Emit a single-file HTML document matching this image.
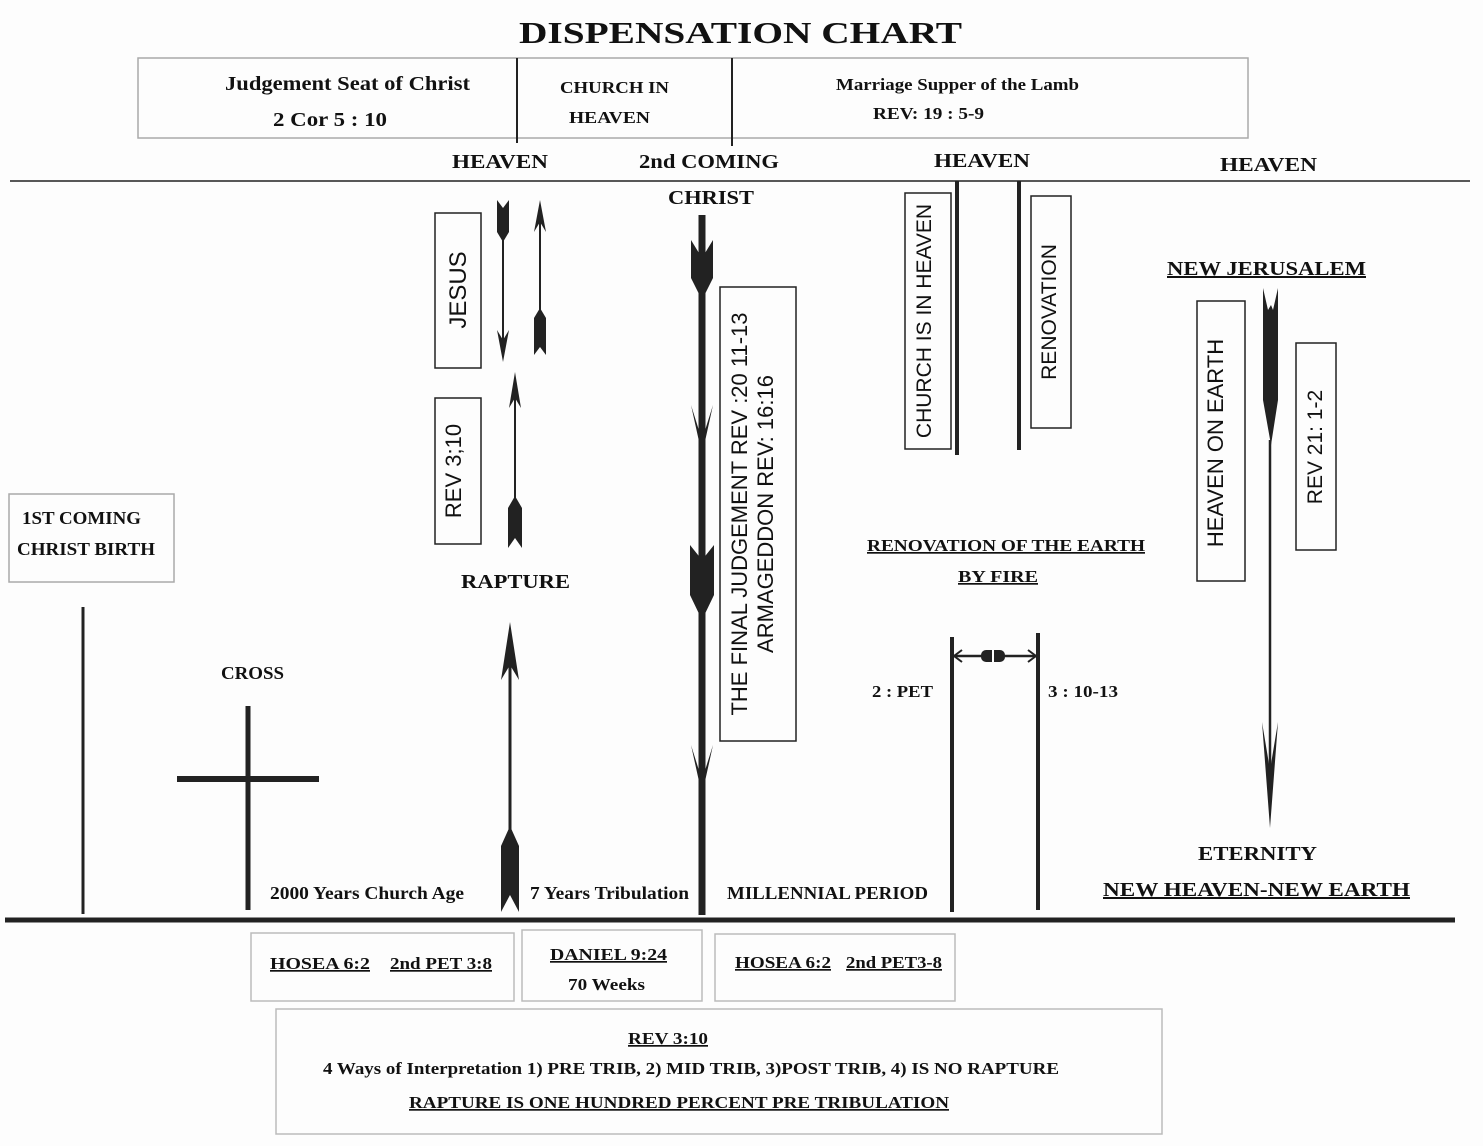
<!DOCTYPE html>
<html><head><meta charset="utf-8"><style>
html,body{margin:0;padding:0;background:#fdfdfd;}
svg{display:block;}
.s{font-family:"Liberation Serif",serif;font-weight:bold;fill:#111;}
.a{font-family:"Liberation Sans",sans-serif;fill:#111;}
</style></head><body>
<svg width="1483" height="1146" viewBox="0 0 1483 1146" xmlns="http://www.w3.org/2000/svg">
<rect width="1483" height="1146" fill="#fdfdfd"/>
<text x="519" y="43" class="s" font-size="31" textLength="443" lengthAdjust="spacingAndGlyphs">DISPENSATION CHART</text>
<rect x="138" y="58" width="1110" height="80" fill="none" stroke="#aaa" stroke-width="1.5"/>
<line x1="517" y1="58" x2="517" y2="143" stroke="#222" stroke-width="2"/>
<line x1="732" y1="58" x2="732" y2="146" stroke="#222" stroke-width="2"/>
<text x="225" y="90" class="s" font-size="20" textLength="245" lengthAdjust="spacingAndGlyphs">Judgement Seat of Christ</text>
<text x="273" y="126" class="s" font-size="20" textLength="114" lengthAdjust="spacingAndGlyphs">2 Cor 5 : 10</text>
<text x="560" y="93" class="s" font-size="17" textLength="109" lengthAdjust="spacingAndGlyphs">CHURCH IN</text>
<text x="569" y="123" class="s" font-size="17" textLength="81" lengthAdjust="spacingAndGlyphs">HEAVEN</text>
<text x="836" y="90" class="s" font-size="17" textLength="243" lengthAdjust="spacingAndGlyphs">Marriage Supper of the Lamb</text>
<text x="873" y="119" class="s" font-size="17" textLength="111" lengthAdjust="spacingAndGlyphs">REV: 19 : 5-9</text>
<text x="452" y="168" class="s" font-size="20" textLength="96" lengthAdjust="spacingAndGlyphs">HEAVEN</text>
<text x="639" y="168" class="s" font-size="20" textLength="140" lengthAdjust="spacingAndGlyphs">2nd COMING</text>
<text x="934" y="167" class="s" font-size="20" textLength="96" lengthAdjust="spacingAndGlyphs">HEAVEN</text>
<text x="1220" y="171" class="s" font-size="20" textLength="97" lengthAdjust="spacingAndGlyphs">HEAVEN</text>
<line x1="10" y1="181" x2="1470" y2="181" stroke="#222" stroke-width="1.5"/>
<text x="668" y="204" class="s" font-size="20" textLength="86" lengthAdjust="spacingAndGlyphs">CHRIST</text>

<rect x="435" y="213" width="46" height="155" fill="none" stroke="#222" stroke-width="1.5"/>
<text transform="translate(466,290) rotate(-90)" class="a" font-size="24" text-anchor="middle">JESUS</text>
<polygon points="497,200 503,208 509,200 509,232 503,242 497,232" fill="#222"/>
<line x1="503" y1="238" x2="503" y2="355" stroke="#222" stroke-width="2"/>
<polygon points="497,330 503,362 509,330 503,340" fill="#222"/>
<polygon points="534,232 540,200 546,232 540,222" fill="#222"/>
<line x1="540" y1="220" x2="540" y2="320" stroke="#222" stroke-width="2"/>
<polygon points="534,318 540,308 546,318 546,355 540,347 534,355" fill="#222"/>

<rect x="435" y="398" width="46" height="146" fill="none" stroke="#222" stroke-width="1.5"/>
<text transform="translate(461,471) rotate(-90)" class="a" font-size="22" text-anchor="middle">REV 3;10</text>
<polygon points="509,408 515,372 521,408 515,398" fill="#222"/>
<line x1="515" y1="395" x2="515" y2="510" stroke="#222" stroke-width="2"/>
<polygon points="508,508 515,496 522,508 522,548 515,538 508,548" fill="#222"/>
<text x="461" y="588" class="s" font-size="20" textLength="109" lengthAdjust="spacingAndGlyphs">RAPTURE</text>

<rect x="9" y="494" width="165" height="88" fill="none" stroke="#aaa" stroke-width="1.5"/>
<text x="22" y="524" class="s" font-size="18" textLength="119" lengthAdjust="spacingAndGlyphs">1ST COMING</text>
<text x="17" y="555" class="s" font-size="18" textLength="138" lengthAdjust="spacingAndGlyphs">CHRIST BIRTH</text>
<line x1="83" y1="607" x2="83" y2="914" stroke="#222" stroke-width="3"/>
<text x="221" y="679" class="s" font-size="18" textLength="63" lengthAdjust="spacingAndGlyphs">CROSS</text>
<line x1="248" y1="706" x2="248" y2="910" stroke="#222" stroke-width="5"/>
<line x1="177" y1="779" x2="319" y2="779" stroke="#222" stroke-width="6"/>

<polygon points="501,680 510,622 519,680 510,665" fill="#222"/>
<line x1="510" y1="665" x2="510" y2="840" stroke="#222" stroke-width="3"/>
<polygon points="501,846 510,826 519,846 519,912 510,895 501,912" fill="#222"/>

<line x1="702" y1="215" x2="702" y2="915" stroke="#222" stroke-width="7"/>
<polygon points="691,240 702,258 713,240 713,278 702,300 691,278" fill="#222"/>
<polygon points="691,405 702,440 713,405 702,455" fill="#222"/>
<polygon points="690,545 702,560 714,545 714,595 702,620 690,595" fill="#222"/>
<polygon points="691,745 702,780 713,745 702,795" fill="#222"/>
<rect x="720" y="287" width="76" height="454" fill="none" stroke="#222" stroke-width="1.5"/>
<text transform="translate(747,514) rotate(-90)" class="a" font-size="22" text-anchor="middle">THE FINAL JUDGEMENT REV :20 11-13</text>
<text transform="translate(773,514) rotate(-90)" class="a" font-size="22" text-anchor="middle">ARMAGEDDON REV: 16:16</text>

<rect x="905" y="193" width="46" height="256" fill="none" stroke="#222" stroke-width="1.5"/>
<text transform="translate(931,321) rotate(-90)" class="a" font-size="21" text-anchor="middle">CHURCH IS IN HEAVEN</text>
<line x1="957" y1="181" x2="957" y2="455" stroke="#222" stroke-width="4"/>
<line x1="1019" y1="181" x2="1019" y2="450" stroke="#222" stroke-width="4"/>
<rect x="1031" y="196" width="40" height="232" fill="none" stroke="#222" stroke-width="1.5"/>
<text transform="translate(1056,312) rotate(-90)" class="a" font-size="21" text-anchor="middle">RENOVATION</text>
<text x="867" y="551" class="s" font-size="17" text-decoration="underline" textLength="278" lengthAdjust="spacingAndGlyphs">RENOVATION OF THE EARTH</text>
<text x="958" y="582" class="s" font-size="17" text-decoration="underline" textLength="80" lengthAdjust="spacingAndGlyphs">BY FIRE</text>
<line x1="952" y1="637" x2="952" y2="912" stroke="#222" stroke-width="4"/>
<line x1="1038" y1="633" x2="1038" y2="910" stroke="#222" stroke-width="4"/>
<line x1="954" y1="656" x2="1036" y2="656" stroke="#222" stroke-width="2.5"/>
<polyline points="962,650 954,656 962,662" fill="none" stroke="#222" stroke-width="2"/>
<polyline points="1028,650 1036,656 1028,662" fill="none" stroke="#222" stroke-width="2"/>
<rect x="981" y="650" width="24" height="12" rx="5" fill="#222"/>
<line x1="993" y1="650" x2="993" y2="662" stroke="#fff" stroke-width="2"/>
<text x="872" y="697" class="s" font-size="17" textLength="61" lengthAdjust="spacingAndGlyphs">2 : PET</text>
<text x="1048" y="697" class="s" font-size="17" textLength="70" lengthAdjust="spacingAndGlyphs">3 : 10-13</text>

<text x="1167" y="275" class="s" font-size="20" text-decoration="underline" textLength="199" lengthAdjust="spacingAndGlyphs">NEW JERUSALEM</text>
<rect x="1197" y="301" width="48" height="280" fill="none" stroke="#222" stroke-width="1.5"/>
<text transform="translate(1223,443) rotate(-90)" class="a" font-size="22" text-anchor="middle">HEAVEN ON EARTH</text>
<rect x="1296" y="343" width="40" height="207" fill="none" stroke="#222" stroke-width="1.5"/>
<text transform="translate(1322,447) rotate(-90)" class="a" font-size="21" text-anchor="middle">REV 21: 1-2</text>
<polygon points="1263,288 1268,310 1271,305 1273,310 1278,288 1278,400 1271,445 1263,400" fill="#222"/>
<line x1="1270" y1="440" x2="1270" y2="790" stroke="#222" stroke-width="2.5"/>
<polygon points="1262,722 1270,828 1278,722 1270,770" fill="#222"/>
<text x="1198" y="860" class="s" font-size="20" textLength="119" lengthAdjust="spacingAndGlyphs">ETERNITY</text>
<text x="1103" y="896" class="s" font-size="20" text-decoration="underline" textLength="307" lengthAdjust="spacingAndGlyphs">NEW HEAVEN-NEW EARTH</text>

<text x="270" y="899" class="s" font-size="18" textLength="194" lengthAdjust="spacingAndGlyphs">2000 Years Church Age</text>
<text x="530" y="899" class="s" font-size="18" textLength="159" lengthAdjust="spacingAndGlyphs">7 Years Tribulation</text>
<text x="727" y="899" class="s" font-size="18" textLength="201" lengthAdjust="spacingAndGlyphs">MILLENNIAL PERIOD</text>
<line x1="5" y1="920" x2="1455" y2="920" stroke="#222" stroke-width="5"/>

<rect x="251" y="933" width="263" height="68" fill="none" stroke="#bbb" stroke-width="1.5"/>
<text x="270" y="969" class="s" font-size="17" text-decoration="underline" textLength="100" lengthAdjust="spacingAndGlyphs">HOSEA 6:2 </text>
<text x="390" y="969" class="s" font-size="17" text-decoration="underline" textLength="102" lengthAdjust="spacingAndGlyphs">2nd PET 3:8</text>
<rect x="522" y="930" width="180" height="71" fill="none" stroke="#bbb" stroke-width="1.5"/>
<text x="550" y="960" class="s" font-size="17" text-decoration="underline" textLength="117" lengthAdjust="spacingAndGlyphs">DANIEL 9:24</text>
<text x="568" y="990" class="s" font-size="17" textLength="77" lengthAdjust="spacingAndGlyphs">70 Weeks</text>
<rect x="715" y="934" width="240" height="67" fill="none" stroke="#bbb" stroke-width="1.5"/>
<text x="735" y="968" class="s" font-size="17" text-decoration="underline" textLength="96" lengthAdjust="spacingAndGlyphs">HOSEA 6:2</text>
<text x="846" y="968" class="s" font-size="17" text-decoration="underline" textLength="96" lengthAdjust="spacingAndGlyphs">2nd PET3-8</text>
<rect x="276" y="1009" width="886" height="125" fill="none" stroke="#bbb" stroke-width="1.5"/>
<text x="628" y="1044" class="s" font-size="17" text-decoration="underline" textLength="80" lengthAdjust="spacingAndGlyphs">REV 3:10</text>
<text x="323" y="1074" class="s" font-size="17" textLength="736" lengthAdjust="spacingAndGlyphs">4 Ways of Interpretation 1) PRE TRIB, 2) MID TRIB, 3)POST TRIB, 4) IS NO RAPTURE</text>
<text x="409" y="1108" class="s" font-size="17" text-decoration="underline" textLength="540" lengthAdjust="spacingAndGlyphs">RAPTURE IS ONE HUNDRED PERCENT PRE TRIBULATION</text>
</svg>
</body></html>
